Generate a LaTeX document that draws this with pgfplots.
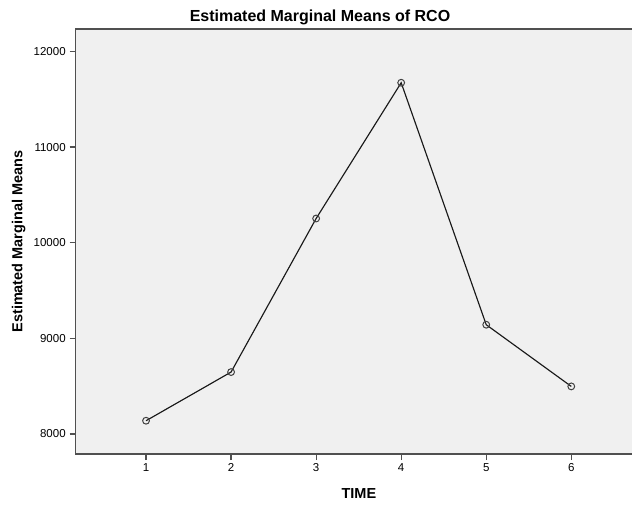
\documentclass[border=0pt]{standalone}
\usepackage{pgfplots}
\pgfplotsset{compat=1.18}
\usepackage{fontspec}
\setmainfont{Liberation Sans}
\usetikzlibrary{calc}

\definecolor{plotbg}{HTML}{F0F0F0}
\definecolor{axisgray}{HTML}{505050}

\begin{document}
\begin{tikzpicture}
\begin{axis}[
    at={(0pt,0pt)}, anchor=south west,
    width=556.3pt, height=425pt,
    scale only axis,
    xmin=0.173, xmax=6.714,
    ymin=7790, ymax=12235,
    xtick={1,2,3,4,5,6},
    ytick={8000,9000,10000,11000,12000},
    scaled ticks=false,
    tick pos=left,
    tick align=outside,
    major tick length=6pt,
    tick style={axisgray, line width=1.2pt},
    axis line style={draw=none},
    axis background/.style={fill=plotbg},
    /pgf/number format/assume math mode=true,
    /pgf/number format/1000 sep={},
    tick label style={font=\fontsize{11.5}{13}\selectfont},
    yticklabel style={xshift=-0.5pt},
    clip=false,
]
\addplot[black!90, line width=1.15pt, mark=o,
         mark options={draw=black!75, line width=1pt, fill=none},
         mark size=3.4pt] coordinates {
    (1, 8138) (2, 8647) (3, 10253) (4, 11673) (5, 9142) (6, 8497)
};
\draw[axisgray, line width=1.3pt] (rel axis cs:1,1) -- (rel axis cs:0,1)
    -- (rel axis cs:0,0) -- (rel axis cs:1,0);
\end{axis}

% titles and labels
\node[anchor=base, font=\bfseries\fontsize{16}{18}\selectfont] at (244.3pt, 432pt)
    {Estimated Marginal Means of RCO};
\node[anchor=base, font=\bfseries\fontsize{14.5}{16}\selectfont] at (283.2pt, -44.3pt)
    {TIME};
\node[rotate=90, font=\bfseries\fontsize{14.5}{16}\selectfont] at (-57pt, 212.5pt)
    {Estimated Marginal Means};

\pgfresetboundingbox
\path[use as bounding box] (-75.7pt, -50pt) rectangle (556.3pt, 454pt);
\end{tikzpicture}
\end{document}
